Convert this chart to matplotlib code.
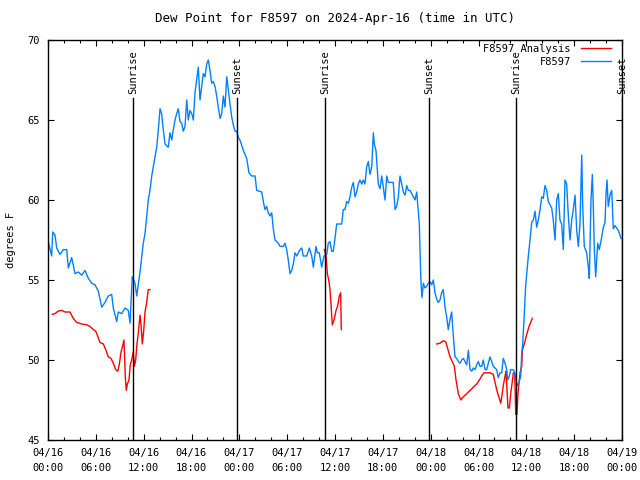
import numpy as np
import pandas as pd
import matplotlib
matplotlib.use("Agg")
import matplotlib.pyplot as plt
import matplotlib.dates as mdates

plt.rcParams['font.family'] = ['DejaVu Sans Mono']
plt.rcParams['font.size'] = 7.5

start = pd.Timestamp("2024-04-16 00:00")

# waarnemingen F8597: uren na 04/16 00:00 en dauwpunt (F)
obs_uur = [0.04, 0.46, 0.59, 0.88, 1.09, 1.51, 1.92, 2.35, 2.55, 2.97, 3.39, 3.80, 4.23, 4.64, 5.06,
           5.48, 5.90, 6.31, 6.74, 7.15, 7.56, 7.99, 8.19, 8.62, 8.82, 9.24, 9.66, 10.07, 10.29, 10.57,
           10.91, 11.13, 11.54, 11.95, 12.17, 12.38, 12.58, 12.79, 13.01, 13.21, 13.42, 13.64, 13.84,
           14.05, 14.26, 14.46, 14.68, 15.09, 15.30, 15.52, 15.72, 15.93, 16.14, 16.34, 16.56, 16.77,
           16.97, 17.19, 17.40, 17.60, 17.81, 18.03, 18.23, 18.44, 18.65, 18.85, 19.07, 19.28, 19.48,
           19.69, 19.91, 20.11, 20.32, 20.53, 20.73, 20.95, 21.16, 21.36, 21.58, 21.79, 21.99, 22.20,
           22.42, 22.62, 22.83, 23.04, 23.24, 23.46, 23.67, 23.87, 24.08, 24.50, 24.92, 25.21, 25.55,
           25.97, 26.18, 26.81, 27.01, 27.22, 27.43, 27.63, 27.85, 28.06, 28.26, 28.47, 28.89, 29.10,
           29.52, 29.73, 29.94, 30.14, 30.36, 30.57, 30.77, 30.98, 31.20, 31.40, 31.61, 31.82, 32.02,
           32.45, 32.78, 33.08, 33.28, 33.62, 33.78, 34.03, 34.33, 34.62, 34.96, 35.16, 35.37, 35.59,
           35.79, 36.00, 36.21, 36.41, 36.63, 36.84, 37.04, 37.25, 37.47, 37.67, 37.88, 38.10, 38.30,
           38.51, 38.72, 38.92, 39.14, 39.35, 39.55, 39.76, 39.98, 40.18, 40.39, 40.61, 40.73, 40.81,
           40.93, 41.14, 41.31, 41.43, 41.65, 41.86, 42.06, 42.27, 42.49, 42.69, 43.11, 43.31, 43.53,
           43.74, 43.94, 44.15, 44.37, 44.57, 44.78, 45.00, 45.20, 45.41, 45.62, 45.82, 46.04, 46.25,
           46.37, 46.58, 46.66, 46.79, 46.91, 47.08, 47.29, 47.50, 47.70, 47.92, 48.13, 48.33, 48.54,
           48.76, 48.96, 49.17, 49.38, 49.58, 49.80, 50.01, 50.21, 50.42, 50.63, 50.84, 51.05, 51.26,
           51.47, 51.68, 51.89, 52.10, 52.52, 52.73, 52.94, 53.15, 53.35, 53.56, 53.78, 53.98, 54.19,
           54.40, 54.60, 54.82, 55.03, 55.23, 55.44, 55.66, 55.86, 56.07, 56.28, 56.48, 56.70, 56.91,
           57.11, 57.33, 57.54, 57.66, 57.87, 58.04, 58.29, 58.49, 58.70, 58.86, 59.08, 59.30, 59.42,
           59.54, 59.74, 59.91, 60.05, 60.25, 60.46, 60.67, 60.88, 61.09, 61.30, 61.50, 61.72, 61.93,
           62.13, 62.34, 62.56, 62.76, 62.97, 63.18, 63.38, 63.60, 63.81, 64.01, 64.22, 64.43, 64.64,
           64.85, 65.06, 65.27, 65.48, 65.69, 65.89, 66.11, 66.32, 66.52, 66.73, 66.95, 67.07, 67.27,
           67.57, 67.78, 67.90, 68.11, 68.28, 68.40, 68.53, 68.70, 68.95, 69.15, 69.46, 69.66, 69.87,
           70.00, 70.12, 70.28, 70.50, 70.71, 70.91, 71.12, 71.54, 71.88]
obs_dp = [57.4, 56.5, 58.0, 57.8, 57.0, 56.6, 56.9, 56.9, 55.75, 56.4, 55.4, 55.5, 55.3, 55.6, 55.1,
          54.8, 54.7, 54.3, 53.3, 53.6, 54.0, 54.1, 53.25, 52.4, 53.0, 52.9, 53.25, 53.1, 52.3, 55.2,
          54.8, 54.0, 55.5, 57.3, 57.9, 59.0, 60.0, 60.6, 61.5, 62.1, 62.7, 63.3, 64.4,
          65.7, 65.4, 64.4, 63.5, 63.3, 64.2, 63.75, 64.4, 65.0, 65.4, 65.7, 64.9, 64.8,
          64.3, 64.6, 66.25, 65.0, 65.6, 65.4, 65.0, 66.7, 67.5, 68.3, 66.25, 67.1, 67.9,
          67.7, 68.5, 68.75, 68.1, 67.3, 67.4, 67.1, 66.5, 65.8, 65.1, 65.4, 66.5, 65.8,
          67.7, 66.9, 66.0, 65.2, 64.7, 64.3, 64.3, 63.9, 63.75, 63.1, 62.6, 61.7, 61.5,
          61.5, 60.6, 60.5, 59.9, 59.4, 59.6, 59.2, 59.0, 59.2, 58.2, 57.5, 57.3, 57.1,
          57.1, 57.3, 56.9, 56.25, 55.4, 55.6, 56.0, 56.7, 56.5, 56.7, 56.9, 57.0, 56.5,
          56.5, 57.0, 56.5, 55.8, 57.1, 56.7, 56.7, 55.8, 56.5, 56.6, 57.3, 57.4, 56.8,
          56.8, 57.6, 58.5, 58.5, 58.5, 58.5, 59.4, 59.4, 59.9, 59.8, 60.2, 60.8, 61.1,
          60.2, 60.5, 61.0, 61.25, 61.0, 61.25, 61.0, 62.1, 62.4, 61.6, 62.1, 63.3, 64.2,
          63.5, 63.1, 61.9, 61.0, 60.7, 61.5, 60.8, 60.0, 61.5, 61.1, 61.1, 61.1, 59.4,
          59.6, 60.2, 61.5, 61.0, 60.5, 60.3, 60.9, 60.6, 60.6, 60.4, 60.2, 60.0, 60.5,
          59.8, 58.5, 56.9, 54.8, 53.9, 54.8, 54.5, 54.6, 54.8, 54.9, 54.7, 55.0, 54.2,
          53.8, 53.6, 53.75, 54.2, 54.4, 53.3, 52.7, 51.9, 52.5, 53.0, 51.5, 50.2, 50.1,
          49.9, 49.8, 50.0, 50.1, 49.7, 50.6, 49.4, 49.3, 49.5, 49.4, 49.7, 49.9, 49.6,
          49.6, 50.0, 49.4, 49.4, 49.8, 50.2, 49.9, 49.6, 49.5, 49.4, 48.9, 49.2, 49.2,
          50.1, 49.8, 49.4, 48.75, 49.0, 49.4, 49.4, 49.3, 48.75, 48.4, 48.6, 49.0, 50.4,
          51.0, 52.8, 54.6, 55.4, 56.5, 57.5, 58.6, 58.75, 59.3, 58.3, 58.75, 59.4, 60.2,
          60.1, 60.9, 60.6, 59.9, 59.7, 59.5, 58.75, 57.5, 60.0, 60.4, 58.75, 58.5, 56.9,
          61.25, 61.0, 59.0, 57.5, 58.75, 59.4, 60.3, 58.1, 57.1, 58.5, 62.8, 59.6, 57.1,
          56.7, 55.8, 55.1, 60.0, 61.6, 59.6, 56.9, 55.2, 57.3, 56.9, 57.7, 58.3, 58.6,
          60.4, 61.25, 59.6, 60.3, 60.6, 58.2, 58.4, 58.1, 57.6]

# analyse, drie losse stukken
ana1_uur = [0.54, 0.88, 1.29, 1.72, 2.13, 2.76, 3.17, 3.60, 4.23, 4.85, 5.27, 5.68, 5.98, 6.23, 6.52,
            6.94, 7.28, 7.56, 7.90, 8.19, 8.49, 8.74, 8.94, 9.16, 9.37, 9.53, 9.70, 9.82, 9.95, 10.16,
            10.32, 10.50, 10.70, 10.83, 11.00, 11.16, 11.33, 11.54, 11.67, 11.83, 12.00, 12.17, 12.38,
            12.58, 12.79]
ana1_dp = [52.85, 52.9, 53.06, 53.1, 53.0, 53.0, 52.6, 52.35, 52.25, 52.2, 52.1, 51.9, 51.8, 51.5, 51.1,
           51.0, 50.6, 50.2, 50.1, 49.8, 49.4, 49.3, 49.7, 50.5, 50.9, 51.25, 48.9, 48.1, 48.5, 48.75,
           49.7, 50.0, 50.5, 49.6, 50.0, 51.0, 51.7, 52.8, 52.2, 51.0, 51.8, 53.0, 53.6,
           54.4, 54.4]
ana2_uur = [34.66, 34.87, 35.04, 35.25, 35.37, 35.50, 35.66, 35.88, 36.13, 36.34, 36.54, 36.71, 36.79]
ana2_dp = [56.9, 56.5, 55.4, 54.9, 54.4, 53.5, 52.2, 52.5, 53.1, 53.4, 54.0, 54.2, 51.9]
ana3_uur = [48.76, 49.17, 49.58, 49.89, 50.14, 50.43, 50.71, 50.97, 51.18, 51.47, 51.77, 52.10, 52.52,
            52.94, 53.35, 53.78, 54.11, 54.40, 54.69, 54.94, 55.44, 55.86, 56.07, 56.36, 56.61, 56.79,
            56.95, 57.11, 57.33, 57.45, 57.62, 57.70, 57.87, 58.04, 58.20, 58.37, 58.54, 58.67, 58.82,
            58.95, 59.12, 59.21, 59.42, 59.50, 59.74, 60.05, 60.34, 60.75]
ana3_dp = [51.0, 51.05, 51.2, 51.15, 50.7, 50.2, 49.9, 49.6, 48.75, 47.9, 47.5, 47.7, 47.9,
           48.1, 48.3, 48.5, 48.75, 49.0, 49.2, 49.2, 49.2, 49.1, 48.6, 48.0, 47.6, 47.3,
           47.8, 48.4, 49.0, 49.3, 47.7, 47.0, 47.0, 47.9, 48.5, 49.2, 49.2, 46.6, 46.6,
           47.9, 48.75, 49.2, 49.6, 50.6, 51.0, 51.6, 52.1, 52.6]

zon_uur = [10.66, 23.71, 34.75, 47.79, 58.71, 71.98]
zon_naam = ["Sunrise", "Sunset", "Sunrise", "Sunset", "Sunrise", "Sunset"]


def tijd(uren):
    return start + pd.to_timedelta(np.array(uren), unit='h')


fig = plt.figure(figsize=(6.4, 4.8), dpi=100)
ax = fig.add_axes([48 / 640, 40 / 480, 574 / 640, 400 / 480])

ax.plot(tijd(ana1_uur), ana1_dp, color='#ff0000', lw=1.0, label='F8597 Analysis')
ax.plot(tijd(ana2_uur), ana2_dp, color='#ff0000', lw=1.0)
ax.plot(tijd(ana3_uur), ana3_dp, color='#ff0000', lw=1.0)
ax.plot(tijd(obs_uur), obs_dp, color='#0080ff', lw=1.0, label='F8597')

for u, naam in zip(zon_uur, zon_naam):
    t = tijd([u])[0]
    ax.plot([t, t], [45, 66.4], color='black', lw=1.0)
    ax.text(t, 66.6, naam, rotation=90, ha='center', va='bottom', clip_on=False)

ax.set_xlim(start, start + pd.Timedelta(hours=72))
ax.set_ylim(45, 70)
ax.set_yticks([45, 50, 55, 60, 65, 70])
ax.xaxis.set_major_locator(mdates.HourLocator(byhour=[0, 6, 12, 18]))
ax.xaxis.set_minor_locator(mdates.HourLocator(interval=2))
ax.xaxis.set_major_formatter(mdates.DateFormatter('%m/%d\n%H:%M'))
ax.tick_params(which='both', direction='in', top=True, right=True)
ax.tick_params(which='major', length=4, width=0.8, pad=6)
ax.tick_params(which='minor', length=2.5, width=0.8)
for s in ax.spines.values():
    s.set_linewidth(1.0)
fig.canvas.draw()
for lab in ax.get_xticklabels():
    lab.set_linespacing(1.6)

ax.set_ylabel('degrees F', labelpad=8)
ax.set_title('Dew Point for F8597 on 2024-Apr-16 (time in UTC)', pad=13)
ax.legend(loc='upper right', bbox_to_anchor=(0.98, 0.99), frameon=False, markerfirst=False,
          handlelength=2.8, borderaxespad=0, borderpad=0, labelspacing=0.25, handletextpad=1.0)

fig.savefig('out.png', dpi=100)
